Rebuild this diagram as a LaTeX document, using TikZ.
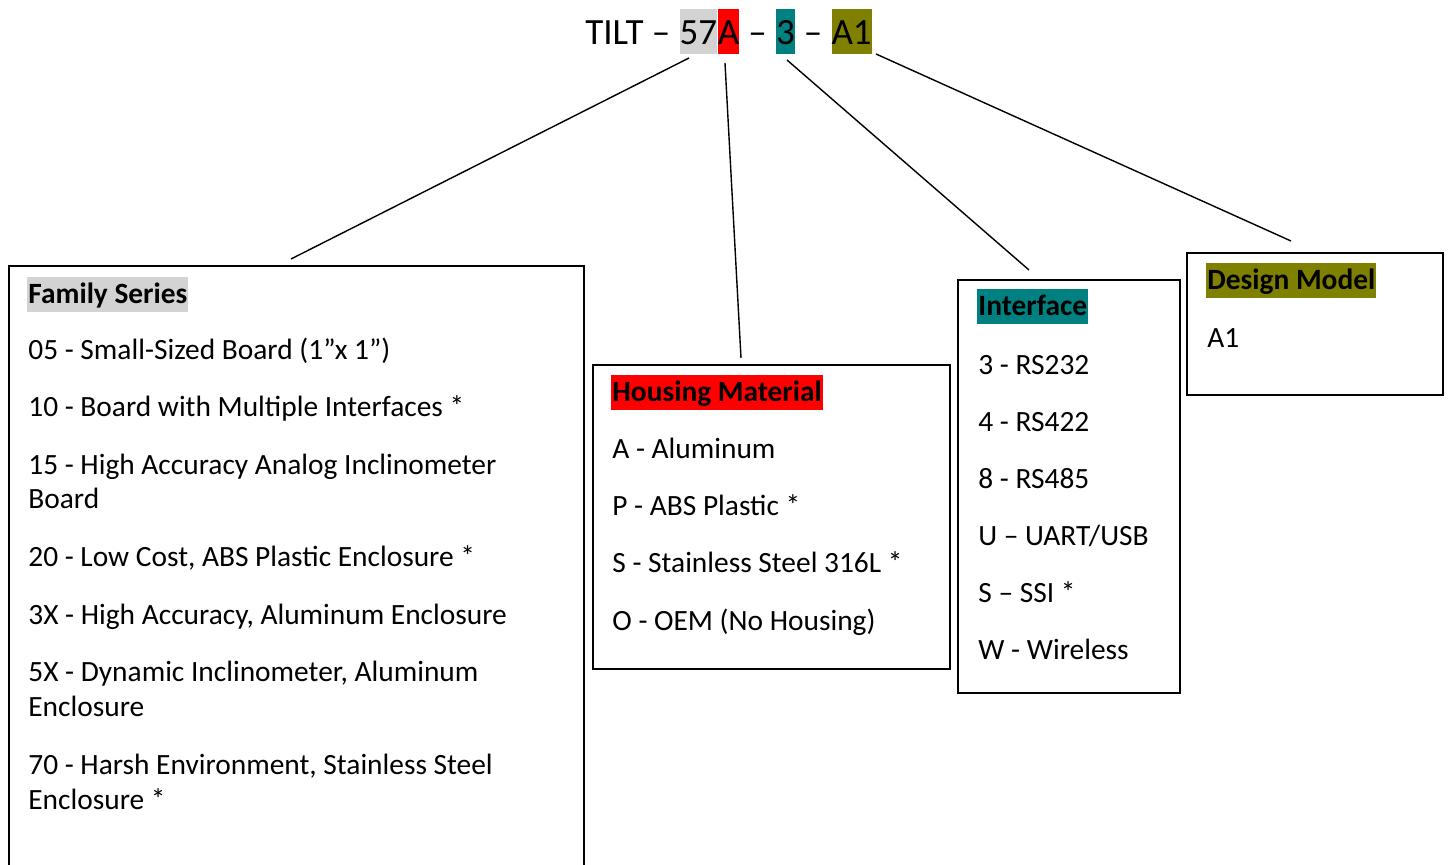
\documentclass[tikz,border=0pt]{standalone}
\usepackage{fontspec}
\setmainfont{Carlito}
\definecolor{hlgrey}{HTML}{D3D3D3}
\definecolor{hlred}{HTML}{FF0000}
\definecolor{hlteal}{HTML}{008080}
\definecolor{hlolive}{HTML}{808000}
\tikzset{
  panel/.style={draw=black, line width=1pt, anchor=north west, inner sep=0pt},
  txt/.style={anchor=base west, inner sep=0pt, font=\fontsize{14.7}{17}\selectfont},
  hdr/.style={anchor=base west, inner xsep=0.5pt, inner ysep=0pt, text height=13.7pt, text depth=4pt, fill=#1, font=\fontsize{14.7}{17}\selectfont\bfseries},
  ttl/.style={anchor=base west, inner sep=0pt, font=\fontsize{18.5}{22}\selectfont},
  thl/.style={ttl, fill=#1, text height=18pt, text depth=4.5pt},
  conn/.style={draw=black, line width=0.7pt}
}
\begin{document}
\begin{tikzpicture}[x=0.5pt,y=-0.5pt]
\useasboundingbox (0,0) rectangle (1448,865);
% title
\node[ttl] (tilt) at (585,45) {TILT~–~\null};
\node[thl=hlgrey] (t57) at (tilt.base east) {57};
\node[thl=hlred] (tA) at (t57.base east) {A};
\node[ttl] (d1) at (tA.base east) {\null~–~\null};
\node[thl=hlteal] (t3) at (d1.base east) {3};
\node[ttl] (d2) at (t3.base east) {\null~–~\null};
\node[thl=hlolive] (tA1) at (d2.base east) {A1};
% panels
\node[panel, minimum width=287.5pt, minimum height=300.5pt] (fam) at (8,265) {};
\node[panel, minimum width=178.5pt, minimum height=152pt] (hous) at (592,364) {};
\node[panel, minimum width=111pt, minimum height=206.5pt] (intf) at (957,279) {};
\node[panel, minimum width=128pt, minimum height=71pt] (dsgn) at (1186,252) {};
% family
\node[hdr=hlgrey] (famh) at (27,304) {Family Series};
\node[txt] (f1) at (28,360) {05 - Small-Sized Board (1”x 1”)};
\node[txt] (f2) at (28,417) {10 - Board with Multiple Interfaces *};
\node[txt] (f3) at (28,475) {15 - High Accuracy Analog Inclinometer};
\node[txt] (f3b) at (28,509) {Board};
\node[txt] (f4) at (28,567) {20 - Low Cost, ABS Plastic Enclosure *};
\node[txt] (f5) at (28,625) {3X - High Accuracy, Aluminum Enclosure};
\node[txt] (f6) at (28,682) {5X - Dynamic Inclinometer, Aluminum};
\node[txt] (f6b) at (28,717) {Enclosure};
\node[txt] (f7) at (28,775) {70 - Harsh Environment, Stainless Steel};
\node[txt] (f7b) at (28,810) {Enclosure *};
% housing
\node[hdr=hlred] (housh) at (611,402) {Housing Material};
\node[txt] (h1) at (612,459) {A - Aluminum};
\node[txt] (h2) at (612,516) {P - ABS Plastic *};
\node[txt] (h3) at (612,573) {S - Stainless Steel 316L *};
\node[txt] (h4) at (612,631) {O - OEM (No Housing)};
% interface
\node[hdr=hlteal] (intfh) at (977,316) {Interface};
\node[txt] (i1) at (978,375) {3 - RS232};
\node[txt] (i2) at (978,432) {4 - RS422};
\node[txt] (i3) at (978,489) {8 - RS485};
\node[txt] (i4) at (978,546) {U – UART/USB};
\node[txt] (i5) at (978,603) {S – SSI *};
\node[txt] (i6) at (978,660) {W - Wireless};
% design
\node[hdr=hlolive] (dsgnh) at (1206,290) {Design Model};
\node[txt] (a1) at (1207,348) {A1};
% connectors
\coordinate (c1s) at (689,58);
\coordinate (c1e) at (291,259);
\coordinate (c2s) at (725,63);
\coordinate (c2e) at (741,358);
\coordinate (c3s) at (787,60);
\coordinate (c3e) at (1029,270);
\coordinate (c4s) at (876,54);
\coordinate (c4e) at (1291,241);
\draw[conn] (c1s) -- (c1e);
\draw[conn] (c2s) -- (c2e);
\draw[conn] (c3s) -- (c3e);
\draw[conn] (c4s) -- (c4e);
\end{tikzpicture}
\end{document}
